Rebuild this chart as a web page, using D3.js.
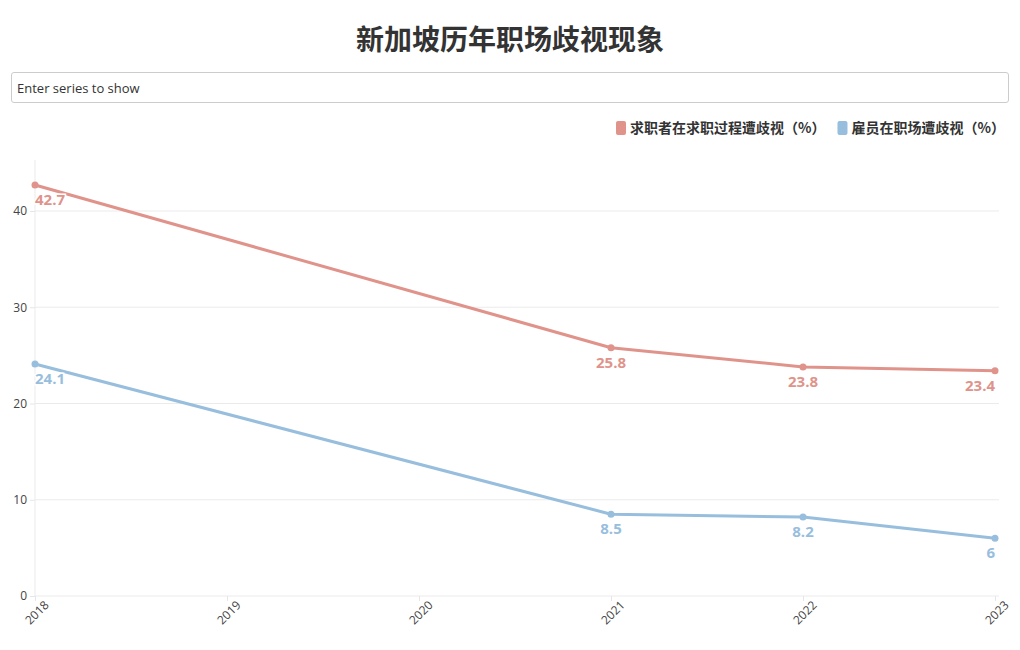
<!DOCTYPE html>
<html>
<head>
<meta charset="utf-8">
<script src="https://cdn.jsdelivr.net/npm/d3@7"></script>
<style>
  body { margin: 0; background: #fff; font-family: "Noto Sans CJK SC", "Noto Sans", sans-serif; }
  #wrap { position: relative; width: 1020px; height: 650px; }
  input { position: absolute; left: 11px; top: 72px; width: 998px; height: 31px; box-sizing: border-box;
    border: 1px solid #ccc; border-radius: 3px; padding: 0 5px; font-family: "Open Sans", "Noto Sans", sans-serif; font-size: 13px; color: #333; }
  input::placeholder { color: #333; }
  svg { position: absolute; left: 0; top: 0; }
</style>
</head>
<body>
<div id="wrap">
  <svg id="chart" width="1020" height="650"></svg>
  <input type="text" placeholder="Enter series to show">
</div>
<script>
// data
const title = "新加坡历年职场歧视现象";
const seriesNames = ["求职者在求职过程遭歧视（%）", "雇员在职场遭歧视（%）"];
const seriesColors = ["#e0938a", "#98bedd"];
const years = [2018, 2021, 2022, 2023];
const jobSeekers = [42.7, 25.8, 23.8, 23.4];
const employees = [24.1, 8.5, 8.2, 6];
const yTicks = [0, 10, 20, 30, 40];
const xTicks = [2018, 2019, 2020, 2021, 2022, 2023];

const series = [jobSeekers, employees].map((vals, i) => ({
  name: seriesNames[i],
  color: seriesColors[i],
  values: years.map((y, j) => ({ year: y, value: vals[j] }))
}));

const svg = d3.select("#chart");
const margin = { top: 160, right: 21, bottom: 54, left: 35 };
const width = 1020, height = 650;

const x = d3.scaleLinear().domain([2018, 2023]).range([margin.left, 995]);
const y = d3.scaleLinear().domain([0, 45.3]).range([height - margin.bottom, margin.top]);

// title
svg.append("text")
  .attr("x", 510).attr("y", 50)
  .attr("text-anchor", "middle")
  .attr("font-size", 28).attr("font-weight", "bold")
  .attr("fill", "#333")
  .text(title);

// legend
const legend = svg.append("g").attr("transform", "translate(616,128)");
let lx = 0;
series.forEach(s => {
  const item = legend.append("g").attr("transform", `translate(${lx},0)`);
  item.append("rect").attr("x", 0).attr("y", -7).attr("width", 10).attr("height", 14)
    .attr("rx", 2).attr("fill", s.color);
  const t = item.append("text").attr("x", 14).attr("y", 5)
    .attr("font-size", 14).attr("font-weight", "bold").attr("fill", "#333")
    .text(s.name);
  lx += 14 + t.node().getComputedTextLength() + 12;
});

// gridlines
const grid = svg.append("g");
grid.selectAll("line.h").data(yTicks).join("line")
  .attr("x1", margin.left).attr("x2", 999)
  .attr("y1", d => y(d)).attr("y2", d => y(d))
  .attr("stroke", "#ebebeb");
grid.append("line")
  .attr("x1", margin.left).attr("x2", margin.left)
  .attr("y1", margin.top).attr("y2", height - margin.bottom)
  .attr("stroke", "#ebebeb");

// y axis
const yAxis = svg.append("g")
  .attr("transform", `translate(${margin.left},0)`)
  .call(d3.axisLeft(y).tickValues(yTicks).tickSize(5).tickPadding(3));
yAxis.select(".domain").remove();
yAxis.selectAll(".tick line").attr("stroke", "#e6e6e6");
yAxis.selectAll("text").attr("font-size", 12).attr("fill", "#444")
  .attr("font-family", "'Open Sans', 'Noto Sans', sans-serif");

// x axis
const xAxis = svg.append("g")
  .attr("transform", `translate(0,${height - margin.bottom})`)
  .call(d3.axisBottom(x).tickValues(xTicks).tickFormat(d3.format("d")).tickSize(5));
xAxis.select(".domain").remove();
xAxis.selectAll(".tick line").attr("stroke", "#e6e6e6");
xAxis.selectAll("text")
  .attr("font-size", 12).attr("fill", "#444")
  .attr("font-family", "'Open Sans', 'Noto Sans', sans-serif")
  .attr("text-anchor", "end")
  .attr("dx", "3").attr("dy", "9")
  .attr("transform", "rotate(-45)");

// lines
const line = d3.line().x(d => x(d.year)).y(d => y(d.value));
const lines = svg.append("g");
series.forEach(s => {
  lines.append("path")
    .datum(s.values)
    .attr("fill", "none")
    .attr("stroke", s.color)
    .attr("stroke-width", 3)
    .attr("stroke-linejoin", "round")
    .attr("d", line);
  lines.selectAll(null).data(s.values).join("circle")
    .attr("cx", d => x(d.year)).attr("cy", d => y(d.value))
    .attr("r", 3.5).attr("fill", s.color);
  lines.selectAll(null).data(s.values).join("text")
    .attr("x", d => x(d.year))
    .attr("y", d => y(d.value) + 20)
    .attr("text-anchor", (d, i) => i === 0 ? "start" : (i === s.values.length - 1 ? "end" : "middle"))
    .attr("font-size", 15).attr("font-weight", "bold")
    .attr("font-family", "'Open Sans', 'Noto Sans', sans-serif")
    .attr("fill", s.color)
    .attr("stroke", "#fff").attr("stroke-width", 3).attr("paint-order", "stroke")
    .text(d => d.value);
});
</script>
</body>
</html>
